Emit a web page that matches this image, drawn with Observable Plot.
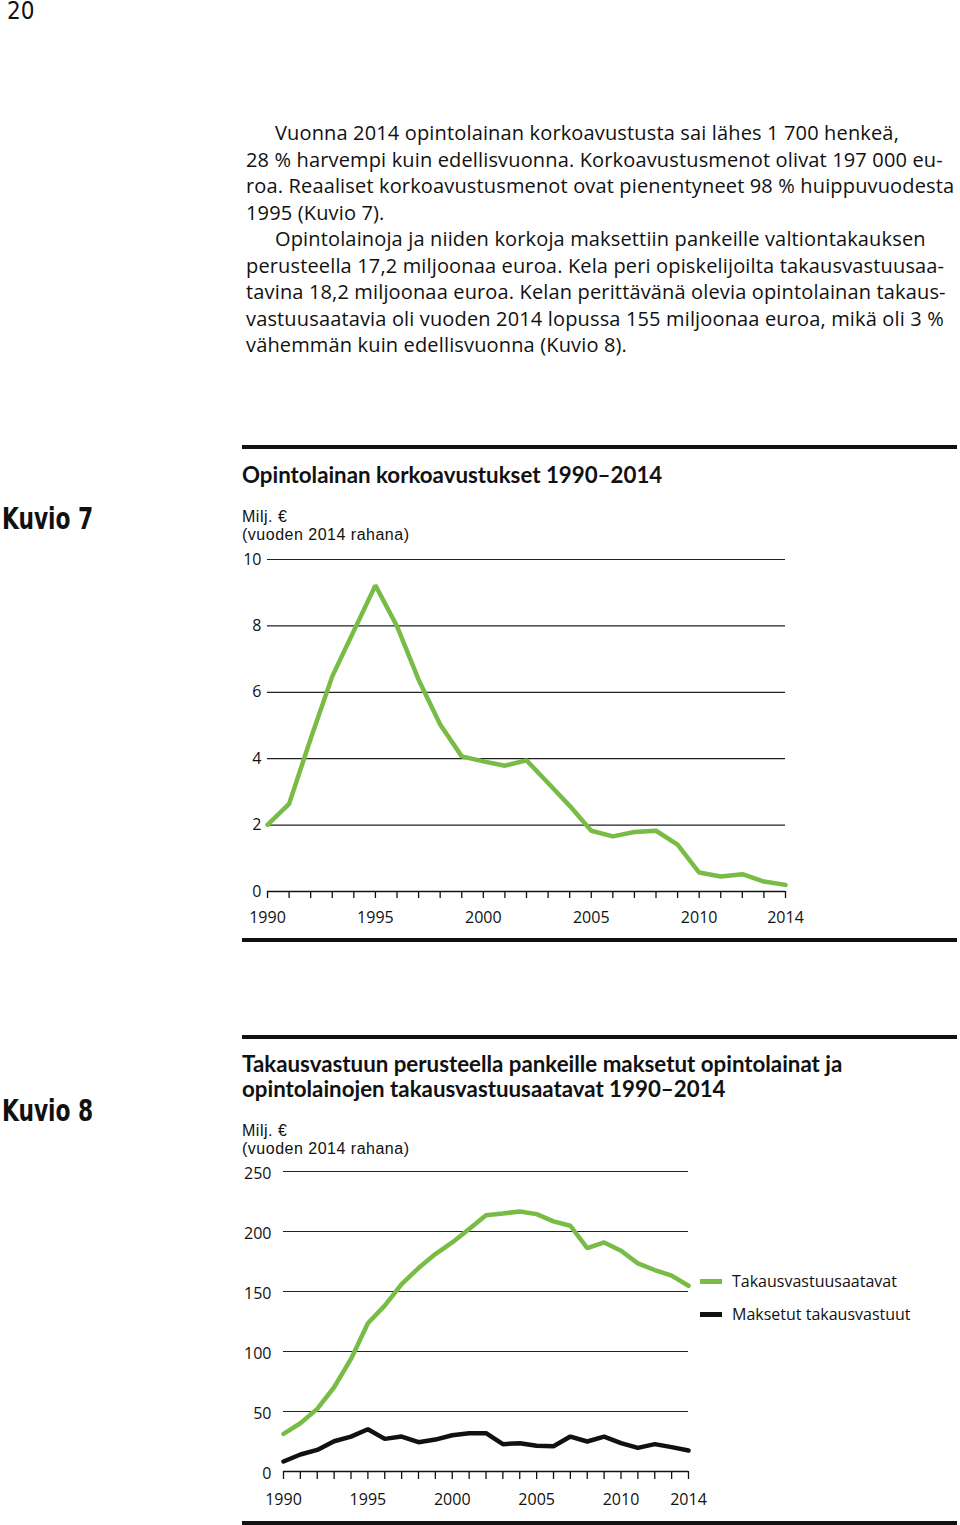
<!DOCTYPE html>
<html><head><meta charset="utf-8">
<script src="https://cdn.jsdelivr.net/npm/d3@7"></script>
<script src="https://cdn.jsdelivr.net/npm/@observablehq/plot@0.6"></script>
<style>
body{margin:0;width:960px;height:1525px;position:relative;background:#fff;font-family:"Open Sans",sans-serif;color:#111;overflow:hidden}
.abs{position:absolute;white-space:nowrap}
.rule{position:absolute;left:242px;width:715px;height:4px;background:#111}
.body{font-size:20px;letter-spacing:0.15px;line-height:26.5px;left:246px;top:120px}
.kuvio{font-family:"Liberation Sans Narrow","DejaVu Sans Condensed",sans-serif;font-weight:bold;font-size:31px;line-height:34px;transform:scaleX(0.78);transform-origin:0 50%}
.title{font-weight:bold;font-size:22.3px;line-height:25px;font-family:Lato,"Open Sans",sans-serif}
.unit{font-family:"Liberation Sans",Arial,sans-serif;font-size:16px;letter-spacing:0.5px;line-height:18px;height:18px}
.leg{font-size:16px;line-height:20px}
.wrap{position:absolute}
</style>
</head><body>
<div class="abs" style="left:7px;top:-1px;font-family:'Liberation Sans Narrow','DejaVu Sans Condensed',sans-serif;font-size:24px;line-height:24px">20</div>

<div class="abs body">
<div style="padding-left:29px">Vuonna 2014 opintolainan korkoavustusta sai lähes 1 700 henkeä,</div>
<div>28 % harvempi kuin edellisvuonna. Korkoavustusmenot olivat 197 000 eu-</div>
<div>roa. Reaaliset korkoavustusmenot ovat pienentyneet 98 % huippuvuodesta</div>
<div>1995 (Kuvio 7).</div>
<div style="padding-left:29px">Opintolainoja ja niiden korkoja maksettiin pankeille valtiontakauksen</div>
<div>perusteella 17,2 miljoonaa euroa. Kela peri opiskelijoilta takausvastuusaa-</div>
<div>tavina 18,2 miljoonaa euroa. Kelan perittävänä olevia opintolainan takaus-</div>
<div>vastuusaatavia oli vuoden 2014 lopussa 155 miljoonaa euroa, mikä oli 3 %</div>
<div>vähemmän kuin edellisvuonna (Kuvio 8).</div>
</div>

<div class="rule" style="top:445px"></div>
<div class="abs kuvio" style="left:2px;top:501px">Kuvio 7</div>
<div class="abs title" style="left:242px;top:462px">Opintolainan korkoavustukset 1990–2014</div>
<div class="abs unit" style="left:242px;top:508px">Milj. €</div>
<div class="abs unit" style="left:242px;top:526px">(vuoden 2014 rahana)</div>
<div class="wrap" id="c1" style="left:240px;top:550px;width:560px"></div>
<div class="rule" style="top:938px"></div>

<div class="rule" style="top:1035px"></div>
<div class="abs kuvio" style="left:2px;top:1093px">Kuvio 8</div>
<div class="abs title" style="left:242px;top:1051px">Takausvastuun perusteella pankeille maksetut opintolainat ja</div>
<div class="abs title" style="left:242px;top:1076px">opintolainojen takausvastuusaatavat 1990–2014</div>
<div class="abs unit" style="left:242px;top:1122px">Milj. €</div>
<div class="abs unit" style="left:242px;top:1140px">(vuoden 2014 rahana)</div>
<div class="wrap" id="c2" style="left:240px;top:1160px;width:460px"></div>
<div class="abs" style="left:700px;top:1279px;width:22px;height:5px;background:#78bc45"></div>
<div class="abs leg" style="left:732px;top:1271px">Takausvastuusaatavat</div>
<div class="abs" style="left:700px;top:1312px;width:22px;height:5px;background:#111"></div>
<div class="abs leg" style="left:732px;top:1304px">Maksetut takausvastuut</div>
<div class="rule" style="top:1521px"></div>

<script>
const years = [1990,1991,1992,1993,1994,1995,1996,1997,1998,1999,2000,2001,2002,2003,2004,2005,2006,2007,2008,2009,2010,2011,2012,2013,2014];
const korkoavustukset = [2.01,2.64,4.6,6.48,7.85,9.22,7.99,6.38,5.03,4.07,3.92,3.79,3.95,3.27,2.58,1.83,1.66,1.79,1.83,1.41,0.57,0.45,0.52,0.30,0.20];
const takausvastuusaatavat = [31.4,40.2,52.2,70.2,93.8,123.5,138.2,156.2,169.5,181.2,190.9,202,213.6,215,216.7,214.5,208.4,204.8,186.2,190.9,184,173.4,167.9,163.2,154.8];
const maksetutTakausvastuut = [8.3,14.2,18,25.2,29.1,35.2,27.2,29.1,24.4,26.6,30.2,31.9,31.9,22.8,23.6,21.4,21.1,29.1,25,29.1,23.6,19.7,22.8,20.3,17.5];
const xLabels = [1990,1995,2000,2005,2010,2014];
const y1Ticks = [0,2,4,6,8,10];
const y2Ticks = [0,50,100,150,200,250];

const GREEN = "#78bc45";
const style = {fontFamily:"'Open Sans',sans-serif", fontSize:"16px", color:"#111", background:"transparent", overflow:"visible"};

const d1 = years.map((y,i)=>({year:y, value:korkoavustukset[i]}));
const c1 = Plot.plot({
  width:560, height:381, marginLeft:27, marginRight:15, marginTop:9, marginBottom:40,
  style,
  x:{domain:[1990,2014], label:null},
  y:{domain:[0,10], label:null},
  marks:[
    Plot.ruleY(y1Ticks.filter(d=>d>0), {stroke:"#222", strokeWidth:1.2}),
    Plot.ruleY([0], {stroke:"#111", strokeWidth:1.5}),
    Plot.axisY(y1Ticks, {tickSize:0, tickPadding:6, label:null, tickFormat:"d"}),
    Plot.axisX(years, {tickSize:7, tickFormat:()=>"", stroke:"#111", strokeWidth:1.3, label:null}),
    Plot.axisX(xLabels, {tickSize:0, tickPadding:20, tickFormat:"d", label:null}),
    Plot.line(d1, {x:"year", y:"value", stroke:GREEN, strokeWidth:4.5, strokeLinejoin:"miter"})
  ]
});
document.getElementById("c1").appendChild(c1);

const d2 = years.flatMap((y,i)=>[
  {year:y, value:takausvastuusaatavat[i], s:"Takausvastuusaatavat"},
  {year:y, value:maksetutTakausvastuut[i], s:"Maksetut takausvastuut"}
]);
const c2 = Plot.plot({
  width:460, height:351, marginLeft:43, marginRight:12, marginTop:11, marginBottom:40,
  style,
  x:{domain:[1990,2014], label:null},
  y:{domain:[0,250], label:null},
  color:{domain:["Takausvastuusaatavat","Maksetut takausvastuut"], range:[GREEN,"#111"]},
  marks:[
    Plot.ruleY(y2Ticks.filter(d=>d>0), {stroke:"#222", strokeWidth:1.2}),
    Plot.ruleY([0], {stroke:"#111", strokeWidth:1.5}),
    Plot.axisY(y2Ticks, {tickSize:0, tickPadding:12, dy:2, label:null, tickFormat:"d"}),
    Plot.axisX(years, {tickSize:8, tickFormat:()=>"", stroke:"#111", strokeWidth:1.3, label:null}),
    Plot.axisX(xLabels, {tickSize:0, tickPadding:22, tickFormat:"d", label:null}),
    Plot.line(d2, {x:"year", y:"value", z:"s", stroke:"s", strokeWidth:4.5, strokeLinejoin:"miter"})
  ]
});
document.getElementById("c2").appendChild(c2);
</script>
</body></html>
